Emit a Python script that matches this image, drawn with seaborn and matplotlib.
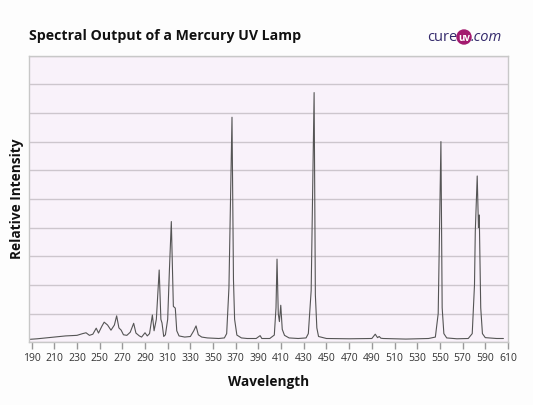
import matplotlib
matplotlib.use("Agg")
import matplotlib.pyplot as plt
from matplotlib.patches import Circle
import pandas as pd
import seaborn as sns

# spectrum (nm, relative intensity 0-100)
wavelength = [
    188, 195, 200, 210, 220, 230, 235, 238, 241, 244, 247, 249, 252, 254, 257,
    260, 263, 265, 267, 269, 271, 274, 277, 280, 282, 285, 287, 290, 292, 294,
    296.5, 298, 300, 302.5, 304, 305, 306.5, 308, 310, 311.5, 313.2, 315,
    316.7, 318, 320, 325, 330, 333, 335, 337, 340, 345, 355, 360, 362, 364,
    366.7, 368, 369, 371, 375, 380, 388, 391.5, 393, 400, 404, 405.5, 406.4,
    407.5, 408.5, 409.7, 411, 413, 417, 425, 432, 434, 436.5, 439.1, 440.2,
    441.5, 443, 450, 470, 490, 493, 495, 496.5, 498, 500, 520, 540, 546,
    548.5, 550.9, 552, 553.5, 556, 565, 575, 578.5, 580.5, 581.2, 582.9, 584,
    584.7, 586, 587.5, 590, 600, 606,
]
intensity = [
    1.0, 1.2, 1.4, 1.8, 2.2, 2.4, 3.0, 3.3, 2.4, 2.8, 4.9, 3.2, 5.6, 7.0, 6.0,
    4.2, 6.0, 9.2, 5.0, 4.2, 2.6, 2.4, 3.5, 6.6, 3.2, 2.2, 1.8, 3.3, 2.2, 3.0,
    9.5, 4.0, 8.0, 25.2, 8.0, 6.7, 2.0, 2.6, 8.0, 25.0, 42.1, 12.5,
    11.9, 4.0, 2.2, 1.8, 2.0, 4.0, 5.7, 2.6, 1.8, 1.5, 1.3, 1.5, 3.0, 19.0,
    78.5, 21.7, 8.0, 2.5, 1.5, 1.3, 1.3, 2.3, 1.3, 1.3, 2.5, 12.0, 29.0,
    10.0, 7.2, 12.9, 4.5, 2.4, 1.5, 1.3, 1.5, 3.0, 18.0, 87.1, 16.5,
    5.0, 2.0, 1.3, 1.2, 1.3, 2.8, 1.6, 2.0, 1.4, 1.3, 1.1, 1.3, 1.8,
    10.0, 70.0, 12.0, 3.0, 1.5, 1.2, 1.3, 3.0, 20.0, 38.6, 58.0, 40.0,
    44.4, 12.0, 3.0, 1.6, 1.3, 1.3,
]
xticks = list(range(190, 611, 20))

df = pd.DataFrame({"Wavelength": wavelength, "Relative Intensity": intensity})

sns.set_theme(style="white")
plt.rcParams["font.family"] = ["Open Sans", "DejaVu Sans"]

fig = plt.figure(figsize=(5.33, 4.05), dpi=100, facecolor="#fdfdfd")
ax = fig.add_axes([0.055, 0.155, 0.898, 0.7077])
ax.set_facecolor("#f9f2fa")

sns.lineplot(data=df, x="Wavelength", y="Relative Intensity", ax=ax,
             color="#555555", linewidth=0.8)

ax.set_xlim(188, 610)
ax.set_ylim(0, 100)
ax.set_xticks(xticks)
ax.set_yticks(range(0, 101, 10))
ax.set_yticklabels([])
ax.yaxis.grid(True, color="#cdc6cd", linewidth=1)
ax.xaxis.grid(False)
ax.tick_params(axis="x", bottom=True, direction="out", length=5, width=1,
               color="#999999", labelsize=7.5, labelcolor="#333333", pad=3)
ax.tick_params(axis="y", left=False, length=0)
for sp in ax.spines.values():
    sp.set_color("#c8c8c8")
    sp.set_linewidth(1)

ax.set_xlabel("Wavelength", fontsize=9.8, fontweight="bold", color="#111111", labelpad=8)
ax.set_ylabel("Relative Intensity", fontsize=9.8, fontweight="bold", color="#111111", labelpad=0)

fig.text(0.054, 0.911, "Spectral Output of a Mercury UV Lamp", fontsize=10.2,
         fontweight="bold", color="#111111", va="center", ha="left")

# logo
fig.text(0.858, 0.907, "cure", fontsize=10.5, color="#33296b", va="center", ha="right")
circ = Circle((464, 405 - 37), 7, transform=None, color="#a3196f", zorder=5)
fig.patches.append(circ)
fig.text(464 / 533, 0.905, "uv", fontsize=7, fontweight="bold", color="white",
         va="center", ha="center", zorder=6)
fig.text(471 / 533, 0.907, ".com", fontsize=10.5, color="#33296b", va="center", ha="left",
         style="italic")

fig.savefig("out.png", dpi=100, facecolor=fig.get_facecolor())
